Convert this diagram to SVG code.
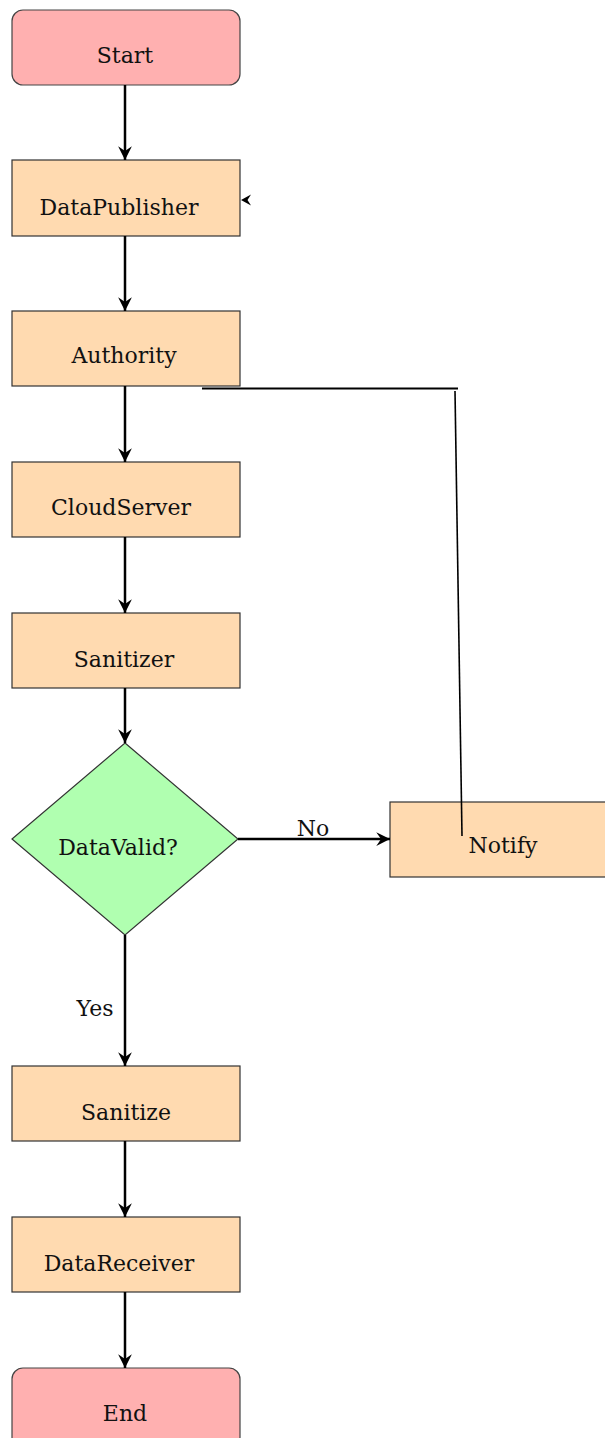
<svg xmlns="http://www.w3.org/2000/svg" width="605" height="1438" viewBox="0 0 605 1438">
  <style>
    .term { fill: #ffb0b0; stroke: #444; stroke-width: 1.2; }
    .proc { fill: #ffdab0; stroke: #333; stroke-width: 1.2; }
    .dec { fill: #b0ffb0; stroke: #333; stroke-width: 1.2; }
    .lbl { font-family: "DejaVu Serif", "Liberation Serif", serif; font-size: 22px; fill: #111; text-anchor: middle; }
    .flow { fill: none; stroke: #000; stroke-width: 2.5; }
    .thin { fill: none; stroke: #000; stroke-width: 1.6; }
  </style>
  <defs>
    <marker id="arrow" viewBox="0 0 10 10" refX="10" refY="5" markerWidth="5.5" markerHeight="5.5" orient="auto" markerUnits="strokeWidth">
      <path d="M0,0 L10,5 L0,10 L3.5,5 z" fill="#000"/>
    </marker>
  </defs>

  <g id="start">
    <rect class="term" x="12" y="10" width="228" height="75" rx="11"/>
    <text class="lbl" x="125" y="63">Start</text>
  </g>
  <g id="dataPublisher">
    <rect class="proc" x="12" y="160" width="228" height="76"/>
    <text class="lbl" x="119" y="215">DataPublisher</text>
  </g>
  <g id="authority">
    <rect class="proc" x="12" y="311" width="228" height="75"/>
    <text class="lbl" x="124" y="363">Authority</text>
  </g>
  <g id="cloudServer">
    <rect class="proc" x="12" y="462" width="228" height="75"/>
    <text class="lbl" x="121" y="515">CloudServer</text>
  </g>
  <g id="sanitizer">
    <rect class="proc" x="12" y="613" width="228" height="75"/>
    <text class="lbl" x="124" y="667">Sanitizer</text>
  </g>
  <g id="dataValid">
    <polygon class="dec" points="125,743 238,839 125,935 12,839"/>
    <text class="lbl" x="118" y="855">DataValid?</text>
  </g>
  <g id="notify">
    <rect class="proc" x="390" y="802" width="220" height="75"/>
    <text class="lbl" x="503" y="853">Notify</text>
  </g>
  <g id="sanitize">
    <rect class="proc" x="12" y="1066" width="228" height="75"/>
    <text class="lbl" x="126" y="1120">Sanitize</text>
  </g>
  <g id="dataReceiver">
    <rect class="proc" x="12" y="1217" width="228" height="75"/>
    <text class="lbl" x="119" y="1271">DataReceiver</text>
  </g>
  <g id="end">
    <rect class="term" x="12" y="1368" width="228" height="80" rx="11"/>
    <text class="lbl" x="125" y="1421">End</text>
  </g>

  <g id="connectors">
    <line class="flow" x1="125" y1="85" x2="125" y2="160" marker-end="url(#arrow)"/>
    <line class="flow" x1="125" y1="236" x2="125" y2="311" marker-end="url(#arrow)"/>
    <line class="flow" x1="125" y1="386" x2="125" y2="462" marker-end="url(#arrow)"/>
    <line class="flow" x1="125" y1="537" x2="125" y2="613" marker-end="url(#arrow)"/>
    <line class="flow" x1="125" y1="688" x2="125" y2="743" marker-end="url(#arrow)"/>
    <line class="flow" x1="238" y1="839" x2="390" y2="839" marker-end="url(#arrow)"/>
    <line class="flow" x1="125" y1="935" x2="125" y2="1066" marker-end="url(#arrow)"/>
    <line class="flow" x1="125" y1="1141" x2="125" y2="1217" marker-end="url(#arrow)"/>
    <line class="flow" x1="125" y1="1292" x2="125" y2="1368" marker-end="url(#arrow)"/>
    <!-- loose link from Authority, running down into Notify -->
    <line class="flow" x1="202" y1="388.5" x2="458" y2="388.5" style="stroke-width:2"/>
    <line class="thin" x1="455" y1="391" x2="462" y2="836"/>
    <!-- stray arrowhead beside DataPublisher -->
    <path d="M241,200 L251,194.5 L247.5,200 L251,205.5 z" fill="#000"/>
    <text class="lbl" x="313" y="836">No</text>
    <text class="lbl" x="95" y="1016">Yes</text>
  </g>
</svg>
